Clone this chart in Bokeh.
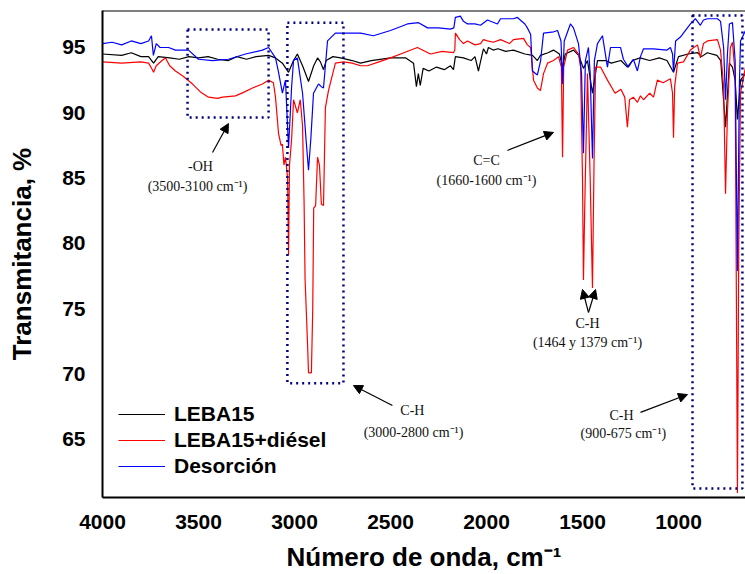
from bokeh.plotting import figure
from bokeh.models import (Range1d, FixedTicker, Legend, LegendItem, BoxAnnotation,
                          Arrow, NormalHead, Label, Span)
from bokeh.embed import file_html
from bokeh.resources import INLINE

# ---- data (wavenumber cm-1, transmittance %) ----
leba15 = [(4000, 94.5), (3900, 94.4), (3850, 94.6), (3800, 94.3), (3760, 94.3), (3734, 93.8),
          (3710, 94.3), (3650, 94.2), (3600, 94.1), (3550, 94.3), (3500, 94.2), (3450, 94.3),
          (3400, 94.1), (3344, 94.0), (3300, 94.3), (3250, 94.1), (3200, 94.3), (3135, 94.4),
          (3099, 94.2), (3063, 93.8), (3031, 93.1), (3005, 94.0), (2985, 94.5), (2958, 93.6),
          (2927, 92.4), (2900, 93.6), (2880, 94.2), (2865, 93.9), (2849, 93.3), (2835, 94.0),
          (2800, 94.3), (2760, 94.2), (2700, 94.0), (2656, 93.8), (2600, 94.0), (2500, 94.2),
          (2420, 94.2), (2380, 93.8), (2365, 92.0), (2355, 93.0), (2345, 92.1), (2330, 93.4),
          (2300, 93.2), (2260, 93.5), (2220, 93.3), (2188, 93.6), (2172, 93.3), (2162, 94.3),
          (2120, 94.2), (2080, 94.0), (2060, 94.3), (2042, 93.2), (2030, 94.0), (2016, 94.9),
          (2000, 94.5), (1990, 95.0), (1965, 94.8), (1940, 94.9), (1900, 94.7), (1860, 94.8),
          (1800, 94.5), (1760, 94.4), (1735, 94.0), (1719, 94.4), (1680, 94.6), (1651, 94.8),
          (1620, 94.5), (1604, 93.5), (1590, 94.5), (1547, 94.8), (1520, 94.4), (1495, 93.4),
          (1474, 94.0), (1448, 91.5), (1422, 94.0), (1380, 94.0), (1350, 93.8), (1300, 94.0),
          (1266, 93.5), (1240, 94.0), (1200, 94.2), (1150, 94.0), (1100, 94.2), (1060, 94.0),
          (1026, 93.1), (1000, 94.3), (950, 94.5), (900, 94.6), (880, 94.3), (850, 94.6),
          (800, 94.4), (780, 94.0), (755, 88.9), (735, 93.8), (719, 93.5), (705, 92.5),
          (693, 89.5), (677, 92.5), (651, 93.0)]

leba15_diesel = [(4000, 93.9), (3900, 93.8), (3800, 93.9), (3760, 93.8), (3740, 93.3), (3734, 93.1),
                 (3720, 93.6), (3690, 94.0), (3672, 94.2), (3650, 93.6), (3620, 93.2), (3580, 92.8),
                 (3531, 92.2), (3490, 91.6), (3448, 91.2), (3400, 91.1), (3375, 91.2), (3307, 91.3),
                 (3260, 91.6), (3219, 91.9), (3167, 92.2), (3135, 92.5), (3110, 92.3), (3099, 91.2),
                 (3083, 88.4), (3070, 87.5), (3063, 87.6), (3055, 86.0), (3047, 86.6), (3036, 85.0),
                 (3031, 79.1), (3026, 86.0), (3015, 88.0), (3005, 91.0), (2995, 90.5), (2985, 90.0),
                 (2970, 91.0), (2958, 89.0), (2950, 83.1), (2945, 77.3), (2932, 72.3), (2927, 70.1),
                 (2912, 70.1), (2905, 75.0), (2900, 82.7), (2890, 82.9), (2880, 86.6), (2870, 86.0),
                 (2860, 83.0), (2849, 82.9), (2839, 90.4), (2823, 91.7), (2787, 93.8), (2745, 93.9),
                 (2700, 93.8), (2656, 93.6), (2620, 93.6), (2560, 93.9), (2500, 94.2), (2430, 94.6),
                 (2360, 95.0), (2292, 94.5), (2230, 94.7), (2172, 94.6), (2165, 94.8), (2162, 96.1),
                 (2140, 95.6), (2120, 95.3), (2099, 95.5), (2060, 95.2), (2031, 95.3), (2016, 95.6),
                 (1995, 95.5), (1964, 95.4), (1927, 95.6), (1880, 95.3), (1860, 95.6), (1807, 95.7),
                 (1787, 95.2), (1770, 95.0), (1755, 92.5), (1735, 91.9), (1719, 91.7), (1703, 93.0),
                 (1682, 93.8), (1651, 94.0), (1625, 94.3), (1610, 93.5), (1604, 86.6), (1598, 93.5),
                 (1578, 94.8), (1547, 95.0), (1521, 94.5), (1510, 93.5), (1500, 85.0), (1495, 77.2),
                 (1488, 83.0), (1474, 93.0), (1460, 85.0), (1448, 76.6), (1440, 86.0), (1432, 93.5),
                 (1406, 93.5), (1370, 92.5), (1330, 91.5), (1300, 91.8), (1280, 91.2), (1266, 88.9),
                 (1255, 91.0), (1235, 91.2), (1214, 90.8), (1198, 91.3), (1182, 91.0), (1150, 91.5),
                 (1130, 91.2), (1110, 92.5), (1080, 92.3), (1042, 92.6), (1031, 91.5), (1026, 88.1),
                 (1020, 92.0), (1005, 93.8), (974, 93.9), (938, 94.8), (901, 95.2), (886, 94.2),
                 (870, 95.3), (849, 95.5), (797, 95.6), (781, 94.8), (765, 92.0), (755, 83.8),
                 (745, 90.0), (730, 95.0), (719, 95.4), (705, 93.0), (700, 80.0), (693, 60.9),
                 (686, 80.0), (677, 91.5), (651, 93.5)]

desorcion = [(4000, 95.3), (3950, 95.4), (3900, 95.2), (3850, 95.5), (3800, 95.3), (3760, 95.5),
             (3745, 95.9), (3735, 94.4), (3720, 95.3), (3700, 95.0), (3656, 95.0), (3620, 94.8),
             (3552, 94.8), (3500, 94.1), (3427, 94.0), (3344, 94.1), (3255, 94.5), (3167, 94.8),
             (3135, 95.0), (3099, 94.2), (3083, 93.1), (3063, 91.5), (3047, 92.5), (3031, 87.3),
             (3015, 92.0), (3005, 94.0), (2985, 94.2), (2958, 91.5), (2940, 88.0), (2927, 85.6),
             (2915, 88.0), (2901, 91.5), (2875, 92.2), (2860, 92.0), (2849, 91.9), (2828, 95.5),
             (2787, 96.1), (2745, 96.1), (2700, 96.1), (2656, 96.1), (2589, 95.9), (2500, 96.3),
             (2412, 96.8), (2354, 96.9), (2307, 96.5), (2250, 96.5), (2188, 96.4), (2170, 96.5),
             (2162, 97.3), (2136, 97.4), (2120, 97.0), (2099, 96.8), (2060, 96.8), (2031, 96.7),
             (1995, 97.1), (1943, 96.8), (1927, 97.2), (1860, 97.2), (1839, 97.3), (1800, 96.8),
             (1787, 96.5), (1770, 96.0), (1761, 93.2), (1735, 92.9), (1718, 94.0), (1703, 96.1),
             (1650, 96.2), (1630, 96.3), (1612, 95.5), (1604, 92.2), (1595, 95.5), (1563, 96.8),
             (1547, 96.5), (1521, 95.3), (1505, 93.0), (1495, 86.9), (1485, 94.0), (1469, 95.0),
             (1460, 93.0), (1448, 86.5), (1438, 94.0), (1422, 95.3), (1396, 95.9), (1370, 93.5),
             (1354, 95.0), (1302, 95.0), (1287, 94.1), (1261, 93.5), (1235, 94.1), (1214, 93.2),
             (1198, 94.3), (1182, 94.9), (1130, 94.9), (1060, 94.8), (1042, 95.0), (1031, 94.5),
             (1026, 93.1), (1015, 95.5), (990, 95.8), (938, 96.8), (912, 97.2), (886, 96.7),
             (870, 97.1), (849, 97.2), (797, 97.2), (781, 97.0), (765, 95.0), (755, 91.0),
             (745, 94.5), (735, 96.8), (719, 96.9), (705, 94.0), (693, 77.9), (683, 92.0),
             (677, 95.5), (651, 96.3)]

series_names = ["LEBA15", "LEBA15+diésel", "Desorción"]
series_colors = ["#000000", "#ff0000", "#0000ff"]

x_ticks = [4000, 3500, 3000, 2500, 2000, 1500, 1000]
y_ticks = [65, 70, 75, 80, 85, 90, 95]

# highlighted regions (wavenumber start, end, T bottom, T top)
region_boxes = [(3557, 3135, 89.64, 96.38), (3037, 2745, 69.3, 96.9), (927, 667, 61.25, 97.45)]

X0, X1 = 4000, 651
Y0, Y1 = 60.56, 97.83

p = figure(width=745, height=574, output_backend="svg", toolbar_location=None,
           x_range=Range1d(X0, X1), y_range=Range1d(Y0, Y1),
           min_border_left=102, min_border_right=0, min_border_top=10, min_border_bottom=77)
p.outline_line_color = None
p.grid.visible = False
p.background_fill_color = "white"
p.border_fill_color = "white"

for ax in (p.xaxis[0], p.yaxis[0]):
    ax.axis_line_width = 2
    ax.axis_line_color = "black"
    ax.major_tick_line_color = None
    ax.minor_tick_line_color = None
    ax.major_label_text_font = "Liberation Sans"
    ax.major_label_text_font_style = "bold"
    ax.major_label_text_font_size = "21px"
    ax.major_label_text_color = "black"
    ax.axis_label_text_font = "Liberation Sans"
    ax.axis_label_text_font_style = "bold"
    ax.axis_label_text_font_size = "26px"
    ax.axis_label_text_color = "black"
    ax.major_label_standoff = 11

p.xaxis.ticker = FixedTicker(ticks=x_ticks)
p.yaxis.ticker = FixedTicker(ticks=y_ticks)
p.xaxis.axis_label = "Número de onda, cm⁻¹"
p.yaxis.axis_label = "Transmitancia, %"
p.xaxis.axis_label_standoff = 10
p.yaxis.axis_label_standoff = 22

p.add_layout(Span(location=Y1, dimension="width", line_color="black", line_width=2))

for (xa, xb, yb, yt) in region_boxes:
    p.add_layout(BoxAnnotation(left=xa, right=xb, bottom=yb, top=yt, fill_color=None,
                               fill_alpha=0, line_color="#000080", line_alpha=1.0,
                               line_width=2.5, line_dash="2 4"))

items = []
for data, name, col in zip([leba15, leba15_diesel, desorcion], series_names, series_colors):
    xs = [d[0] for d in data]
    ys = [d[1] for d in data]
    r = p.line(xs, ys, line_color=col, line_width=1.2)
    items.append(LegendItem(label=name, renderers=[r]))

# annotations
def lab(x, y, t):
    p.add_layout(Label(x=x, y=y, text=t, text_font="Liberation Serif", text_font_size="14px",
                       text_color="#111111", text_align="center", text_baseline="middle"))

def arr(x0, y0, x1, y1):
    p.add_layout(Arrow(end=NormalHead(size=9, fill_color="black", line_color="black"),
                       x_start=x0, y_start=y0, x_end=x1, y_end=y1,
                       line_color="black", line_width=1.2))

lab(3490, 85.9, "-OH")
lab(3505, 84.36, "(3500-3100 cm⁻¹)")
arr(3427, 86.96, 3344, 89.18)

lab(2386, 67.22, "C-H")
lab(2380, 65.54, "(3000-2800 cm⁻¹)")
arr(2490, 67.6, 2693, 69.13)

lab(2000, 86.35, "C=C")
lab(2000, 84.82, "(1660-1600 cm⁻¹)")
arr(1891, 87.12, 1651, 88.5)

lab(1474, 73.88, "C-H")
lab(1474, 72.42, "(1464 y 1379 cm⁻¹)")
arr(1469, 74.72, 1500, 76.48)
arr(1469, 74.72, 1432, 76.48)

lab(1297, 66.84, "C-H")
lab(1287, 65.46, "(900-675 cm⁻¹)")
arr(1198, 67.07, 953, 68.44)

legend = Legend(items=items, location=(16, 19), border_line_color=None,
                background_fill_alpha=0, padding=0, margin=0, spacing=2,
                glyph_width=47, label_standoff=9,
                label_text_font="Liberation Sans", label_text_font_style="bold",
                label_text_font_size="21px", label_text_color="black")
p.add_layout(legend)

open("out.html", "w").write(file_html(p, INLINE))
